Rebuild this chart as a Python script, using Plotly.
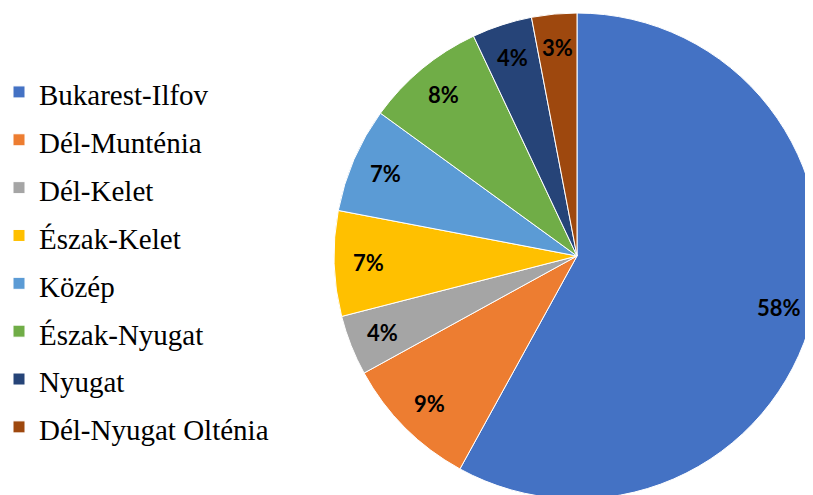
import math
import plotly.graph_objects as go

regions = ["Bukarest-Ilfov", "Dél-Munténia", "Dél-Kelet", "Észak-Kelet",
           "Közép", "Észak-Nyugat", "Nyugat", "Dél-Nyugat Olténia"]
shares = [58, 9, 4, 7, 7, 8, 4, 3]
colors = ["#4472C4", "#ED7D31", "#A5A5A5", "#FFC000",
          "#5B9BD5", "#70AD47", "#264478", "#9E480E"]

W, H = 813, 495
dom_x = [326 / W, 812 / W]
dom_y = [4 / H, 490 / H]

legend_labels = ['<span style="font-size:29px">%s</span>' % r for r in regions]

fig = go.Figure(go.Pie(
    labels=legend_labels,
    values=shares,
    sort=False,
    direction="clockwise",
    rotation=0,
    marker=dict(colors=colors, line=dict(color="#FFFFFF", width=1)),
    textinfo="none",
    domain=dict(x=dom_x, y=dom_y),
    hovertext=regions,
    hoverinfo="text+percent",
))

# percentage labels placed along each slice's mid angle (derived from the data)
total = sum(shares)
xc = (dom_x[0] + dom_x[1]) / 2
yc = (dom_y[0] + dom_y[1]) / 2
r_px = min((dom_x[1] - dom_x[0]) * W, (dom_y[1] - dom_y[0]) * H) / 2
frac = 0.86
cum = 0.0
for v in shares:
    mid = (cum + v / 2) / total * 2 * math.pi
    cum += v
    fig.add_annotation(
        x=xc + frac * r_px * math.sin(mid) / W,
        y=yc + frac * r_px * math.cos(mid) / H,
        xref="paper", yref="paper",
        text="%d%%" % round(v / total * 100),
        showarrow=False,
        font=dict(family="Lato, 'DejaVu Sans', sans-serif", size=22, color="#000000", weight="bold"),
        xanchor="center", yanchor="middle",
    )

fig.update_layout(
    width=W, height=H,
    margin=dict(l=0, r=0, t=0, b=0, autoexpand=False),
    paper_bgcolor="#FFFFFF",
    plot_bgcolor="#FFFFFF",
    showlegend=True,
    legend=dict(
        x=-9 / W, xanchor="left",
        y=1 - 251.5 / H, yanchor="middle",
        font=dict(family="Liberation Serif, Times New Roman, serif", size=34.5, color="#000000"),
        bgcolor="rgba(0,0,0,0)",
        itemclick=False, itemdoubleclick=False,
    ),
)

fig.write_html("out.html")
